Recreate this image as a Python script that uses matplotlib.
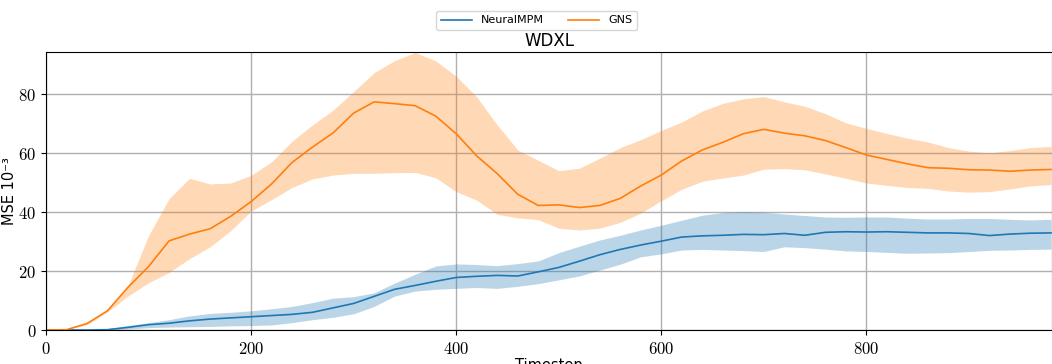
import matplotlib
matplotlib.use('Agg')
import matplotlib.pyplot as plt
import numpy as np
from matplotlib.ticker import FuncFormatter

plt.rcParams['mathtext.fontset'] = 'cm'

# timesteps (every 20)
steps = np.arange(0, 1000, 20)

gns_mean = [0, 0.1, 2.2, 6.5, 14.5, 21.5, 30.2, 32.5, 34.3, 38.5,
            43.5, 49.5, 56.8, 62.0, 66.8, 73.5, 77.3, 76.7, 76.0, 72.5,
            66.5, 59.0, 53.0, 46.0, 42.2, 42.4, 41.5, 42.2, 44.6, 48.8,
            52.5, 57.3, 61.0, 63.6, 66.5, 68.0, 66.7, 65.8, 64.2, 61.8,
            59.3, 57.8, 56.3, 55.0, 54.8, 54.3, 54.2, 53.8, 54.2, 54.4]
gns_upper = [0, 0.2, 2.5, 7.0, 15.0, 32.0, 44.5, 51.4, 49.5, 49.8,
             52.4, 57.0, 64.0, 69.5, 74.5, 80.8, 87.2, 91.3, 94.0, 91.2,
             86.0, 79.0, 69.5, 61.0, 57.5, 54.0, 54.8, 58.2, 61.8, 64.5,
             67.6, 70.5, 74.2, 76.8, 78.3, 79.1, 77.3, 75.8, 73.3, 70.2,
             68.3, 66.6, 65.0, 63.7, 61.8, 60.6, 60.0, 60.8, 61.8, 62.2]
gns_lower = [0, 0.1, 1.8, 6.2, 11.5, 16.0, 19.5, 24.2, 28.2, 33.6,
             40.3, 44.2, 48.3, 51.2, 52.5, 53.1, 53.1, 53.3, 53.4, 51.6,
             46.9, 44.0, 39.2, 38.0, 37.4, 34.5, 33.9, 34.5, 36.5, 39.6,
             43.8, 47.7, 50.4, 51.5, 52.5, 54.5, 54.7, 54.3, 52.9, 51.4,
             49.8, 49.0, 48.3, 48.0, 47.1, 46.7, 46.9, 47.8, 48.8, 49.3]

nmpm_mean = [0, 0, 0, 0.1, 0.9, 1.8, 2.3, 3.1, 3.7, 4.1,
             4.5, 4.9, 5.3, 6.0, 7.5, 9.0, 11.4, 13.8, 15.1, 16.5,
             17.8, 18.2, 18.5, 18.3, 19.7, 21.2, 23.3, 25.5, 27.3, 28.8,
             30.1, 31.5, 31.9, 32.1, 32.4, 32.3, 32.7, 32.1, 33.1, 33.3,
             33.2, 33.3, 33.1, 32.9, 32.9, 32.7, 32.0, 32.5, 32.8, 32.9]
nmpm_upper = [0, 0, 0.1, 0.5, 1.5, 2.5, 3.5, 4.8, 5.6, 6.0,
              6.5, 7.2, 8.0, 9.3, 10.8, 11.3, 12.6, 15.9, 18.9, 21.7,
              22.4, 22.2, 21.8, 22.5, 23.4, 26.2, 28.4, 30.5, 32.1, 33.9,
              35.5, 37.2, 38.9, 39.8, 40.1, 39.9, 39.3, 38.8, 38.3, 38.2,
              38.3, 38.3, 37.9, 37.6, 37.6, 37.8, 37.8, 37.5, 37.3, 37.5]
nmpm_lower = [0, 0, 0, 0, 0.3, 0.8, 1.0, 1.1, 1.2, 1.4,
              1.5, 1.7, 2.5, 3.5, 4.3, 5.5, 8.0, 11.5, 13.2, 13.8,
              14.1, 14.4, 14.1, 14.8, 15.7, 17.0, 18.3, 20.3, 22.3, 24.8,
              25.8, 27.1, 27.3, 27.1, 26.9, 26.6, 28.2, 27.9, 27.4, 26.8,
              26.6, 26.3, 26.0, 26.1, 26.2, 26.6, 27.0, 27.1, 27.3, 27.4]

fig = plt.figure(figsize=(10.52, 3.64), dpi=100)
ax = fig.add_axes([46 / 1052, 34 / 364, 1006 / 1052, 278 / 364])

ax.fill_between(steps, nmpm_lower, nmpm_upper, color='C0', alpha=0.3, lw=0)
ax.plot(steps, nmpm_mean, color='C0', lw=1.2, label='NeuralMPM')
ax.fill_between(steps, gns_lower, gns_upper, color='C1', alpha=0.3, lw=0)
ax.plot(steps, gns_mean, color='C1', lw=1.2, label='GNS')

ax.set_xlim(0, 981)
ax.set_ylim(0, 94.2)
ax.set_xticks([0, 200, 400, 600, 800])
ax.set_yticks([0, 20, 40, 60, 80])
fmt = FuncFormatter(lambda v, p: f'${v:g}$')
ax.xaxis.set_major_formatter(fmt)
ax.yaxis.set_major_formatter(fmt)
ax.tick_params(labelsize=12)
ax.grid(True, color='#b0b0b0', lw=1)
ax.set_axisbelow(True)

ax.set_title('WDXL', fontsize=12, pad=4)
ax.set_xlabel('Timestep', fontsize=10.5, labelpad=0)
ax.set_ylabel('MSE 10\u207b\u00b3', fontsize=10.5)
ax.yaxis.set_label_coords(-0.029, 0.5)

fig.legend(loc='upper center', bbox_to_anchor=(0.51, 0.985), ncol=2,
           fontsize=8, handlelength=2.8, columnspacing=2.2, frameon=True)

fig.savefig('out.png', dpi=100)
